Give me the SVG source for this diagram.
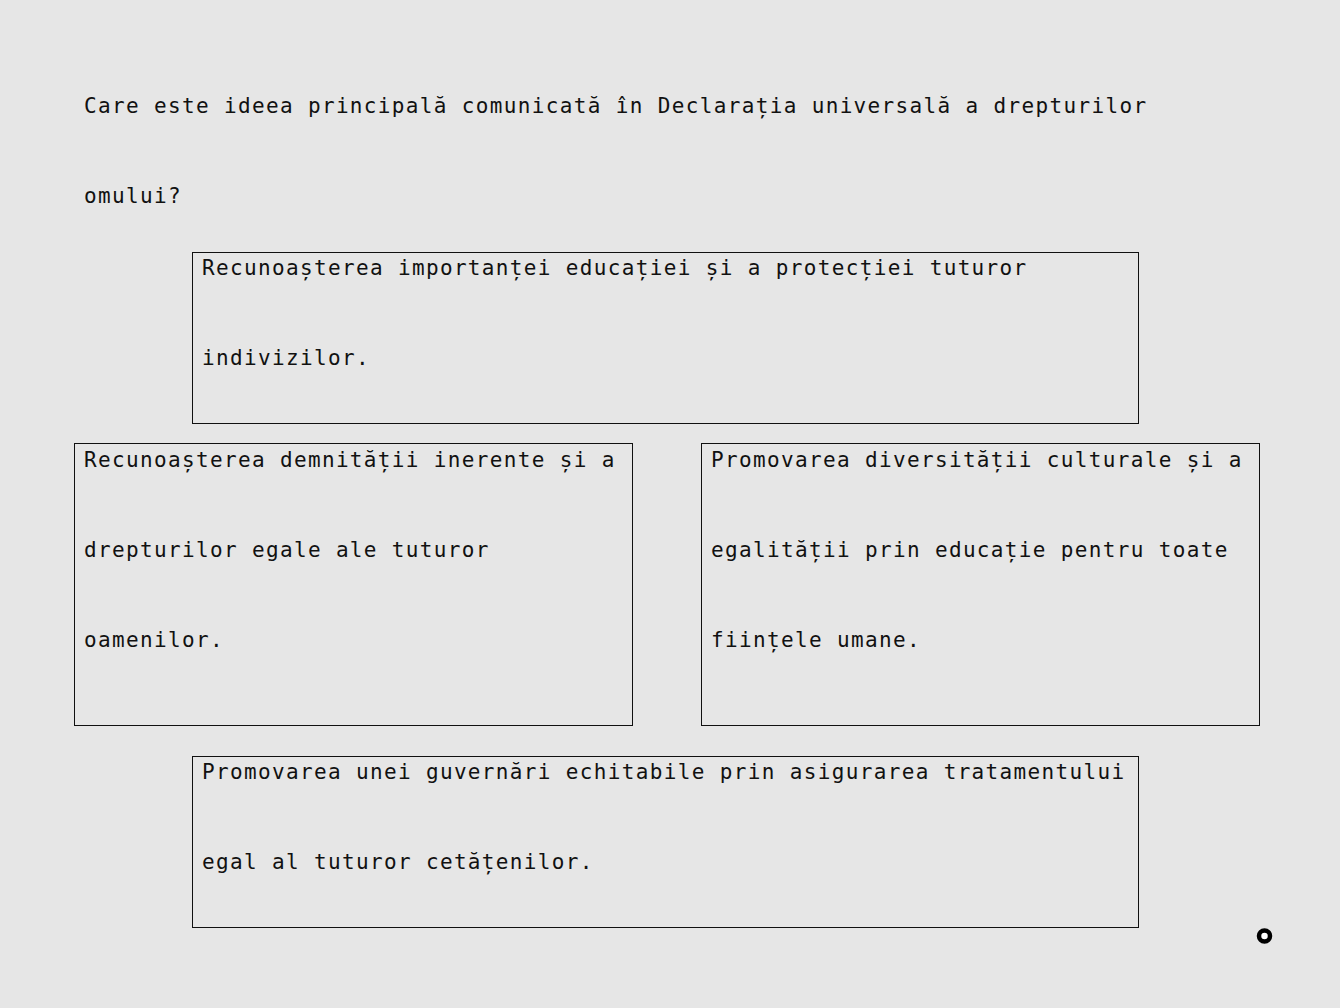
<svg xmlns="http://www.w3.org/2000/svg" width="1340" height="1008" viewBox="0 0 1340 1008">
<style>
.t{font-family:"DejaVu Sans Mono","Liberation Mono",monospace;font-size:21px;letter-spacing:1.35px;fill:#111}
.b{fill:none;stroke:#111;stroke-width:1}
</style>
<rect x="0" y="0" width="1340" height="1008" fill="#e6e6e6"/>
<g id="question">
<text class="t" x="84" y="113">Care este ideea principală comunicată în Declarația universală a drepturilor</text>
<text class="t" x="84" y="203">omului?</text>
</g>
<g id="option1">
<rect class="b" x="192.5" y="252.5" width="946" height="171"/>
<text class="t" x="202" y="275">Recunoașterea importanței educației și a protecției tuturor</text>
<text class="t" x="202" y="365">indivizilor.</text>
</g>
<g id="option2">
<rect class="b" x="74.5" y="443.5" width="558" height="282"/>
<text class="t" x="84" y="467">Recunoașterea demnității inerente și a</text>
<text class="t" x="84" y="557">drepturilor egale ale tuturor</text>
<text class="t" x="84" y="647">oamenilor.</text>
</g>
<g id="option3">
<rect class="b" x="701.5" y="443.5" width="558" height="282"/>
<text class="t" x="711" y="467">Promovarea diversității culturale și a</text>
<text class="t" x="711" y="557">egalității prin educație pentru toate</text>
<text class="t" x="711" y="647">ființele umane.</text>
</g>
<g id="option4">
<rect class="b" x="192.5" y="756.5" width="946" height="171"/>
<text class="t" x="202" y="779">Promovarea unei guvernări echitabile prin asigurarea tratamentului</text>
<text class="t" x="202" y="869">egal al tuturor cetățenilor.</text>
</g>
<g id="connectors"></g>
<g id="marker">
<circle cx="1264.5" cy="936" r="5.5" fill="#fff" stroke="#000" stroke-width="4.5"/>
</g>
</svg>
